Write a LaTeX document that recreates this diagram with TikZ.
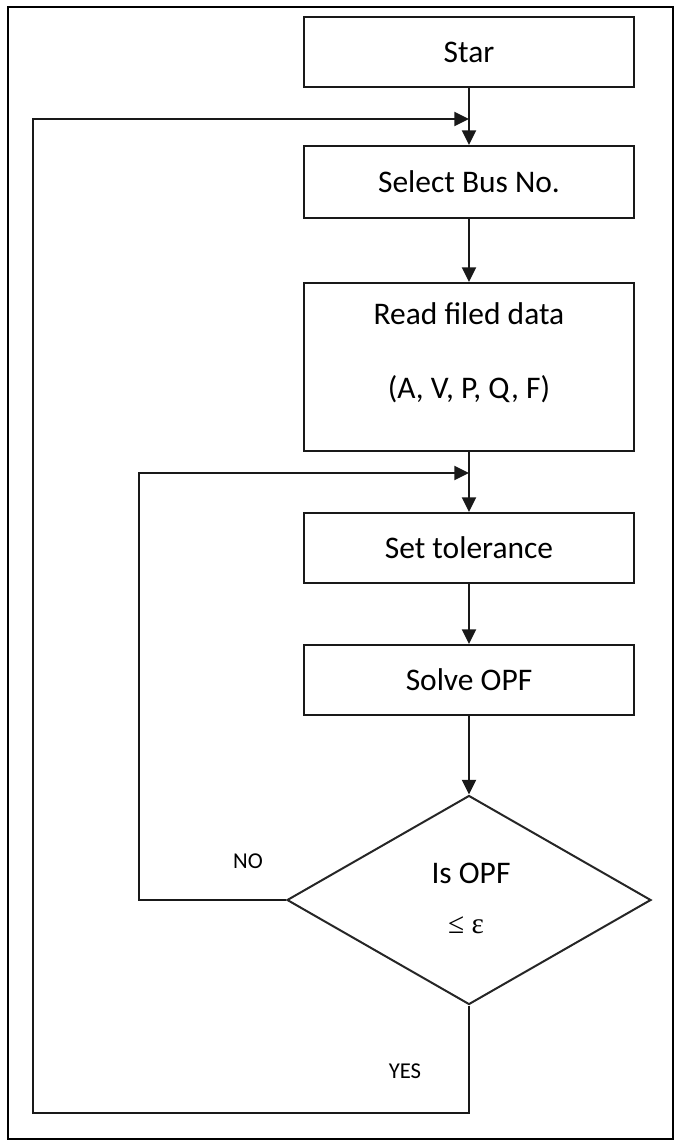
\documentclass[tikz,border=0pt]{standalone}
\usepackage{fontspec}
\setmainfont{Carlito}
\newfontfamily\serifx{Liberation Serif}
\usetikzlibrary{arrows.meta,shapes.geometric}
\begin{document}
\begin{tikzpicture}[x=0.75pt,y=-0.75pt,
  box/.style={draw=black!90,line width=1.5pt,minimum width=247.5pt,inner sep=0pt,font=\fontsize{23.6}{28}\selectfont},
  txt/.style={inner sep=0pt,font=\fontsize{23.6}{28}\selectfont},
  lab/.style={inner sep=0pt,font=\fontsize{17}{20}\selectfont},
  conn/.style={line width=1.5pt,draw=black!90},
  arr/.style={conn,-{Triangle[length=11pt,width=10.5pt]}}]
\useasboundingbox (0,0) rectangle (676,1141);
\draw[line width=1.5pt] (8,7) rectangle (673,1139);
% boxes
\node[box,minimum height=52.5pt] (start) at (469,52) {Star};
\node[box,minimum height=54pt] (select) at (469,182) {Select Bus No.};
\node[box,minimum height=126pt] (read) at (469,367) {};
\node[txt] (r1) at (469,314) {Read filed data};
\node[txt] (r2) at (469,389) {(A, V, P, Q, F)};
\node[box,minimum height=52.5pt] (set) at (469,548) {Set tolerance};
\node[box,minimum height=52.5pt] (solve) at (469,680) {Solve OPF};
\node[draw=black!85,line width=1.5pt,diamond,minimum width=273pt,minimum height=156.75pt,inner sep=0pt] (dec) at (469,900) {};
\node[txt] (d1) at (471,873) {Is OPF};
\node[inner sep=0pt,font=\serifx\fontsize{22}{26}\selectfont] (d2) at (466,925) {≤ ε};
\node[lab] (no) at (248,861) {NO};
\node[lab] (yes) at (405,1071) {YES};
% loop junction points
\coordinate (j1) at (469,119);
\coordinate (j2) at (469,473);
\coordinate (c1) at (469,1113);
\coordinate (c2) at (33,1113);
\coordinate (c3) at (33,119);
\coordinate (c4) at (139,900);
\coordinate (c5) at (139,473);
% connectors
\draw[arr] (start.south) -- (select.north);
\draw[arr] (select.south) -- (read.north);
\draw[arr] (read.south) -- (set.north);
\draw[arr] (set.south) -- (solve.north);
\draw[arr] (solve.south) -- (dec.north);
\draw[arr] (dec.south) -- (c1) -- (c2) -- (c3) -- (j1);
\draw[arr] (dec.west) -- (c4) -- (c5) -- (j2);
\end{tikzpicture}
\end{document}
